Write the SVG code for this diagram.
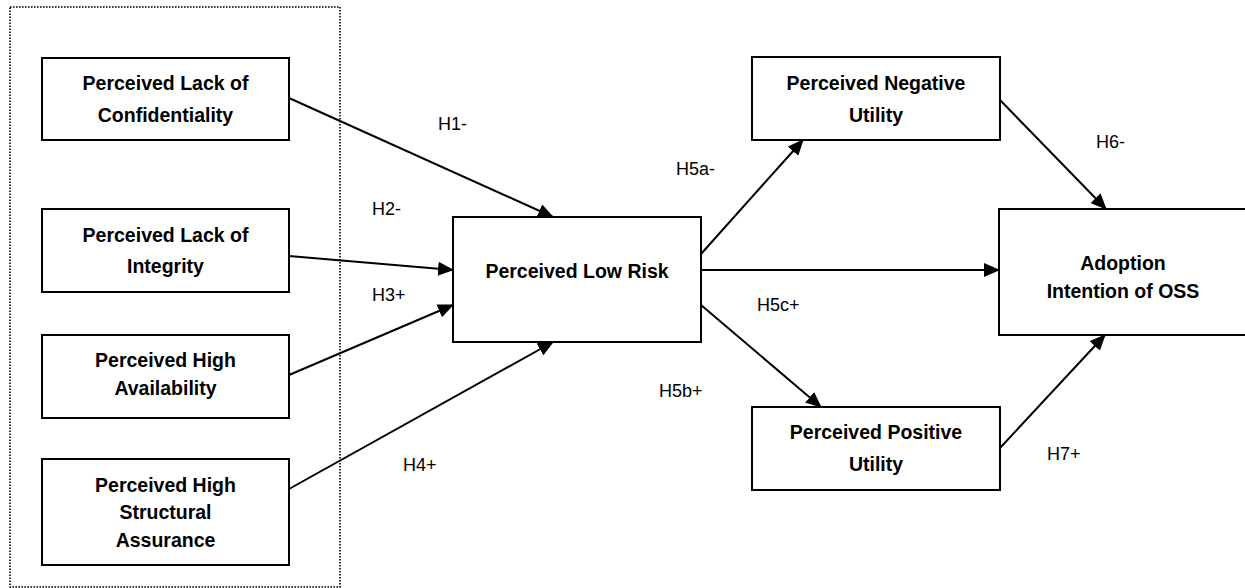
<svg xmlns="http://www.w3.org/2000/svg" width="1245" height="588" viewBox="0 0 1245 588">
<style>
.box{fill:#fff;stroke:#000;stroke-width:2}
.t{font-family:"Liberation Sans",Arial,sans-serif;font-weight:bold;font-size:19.5px;text-anchor:middle;fill:#000}
.lbl{font-family:"Liberation Sans",Arial,sans-serif;font-size:18px;fill:#000}
.c{stroke:#000;stroke-width:2;fill:none;marker-end:url(#ah)}
</style>
<defs>
<marker id="ah" markerUnits="userSpaceOnUse" markerWidth="16" markerHeight="14" refX="15" refY="7" orient="auto">
<path d="M0,0 L16,7 L0,14 Z" fill="#000"/>
</marker>
</defs>
<rect x="10" y="7" width="330" height="580" fill="none" stroke="#000" stroke-width="1.6" stroke-dasharray="1.6,1.4"/>
<g id="connectors">
<line class="c" x1="289" y1="98" x2="553" y2="217"/>
<line class="c" x1="289" y1="256" x2="453" y2="270"/>
<line class="c" x1="289" y1="375" x2="453" y2="305"/>
<line class="c" x1="289" y1="489" x2="553" y2="342"/>
<line class="c" x1="701" y1="254" x2="803" y2="140"/>
<line class="c" x1="701" y1="270" x2="999" y2="270"/>
<line class="c" x1="701" y1="305" x2="821" y2="407"/>
<line class="c" x1="1000" y1="100" x2="1106" y2="209"/>
<line class="c" x1="1000" y1="448" x2="1105" y2="335"/>
</g>
<g id="n1"><rect class="box" x="42" y="58" width="247" height="82"/><text class="t" x="165.5" y="90">Perceived Lack of</text><text class="t" x="165.5" y="122">Confidentiality</text></g>
<g id="n2"><rect class="box" x="42" y="209" width="247" height="83"/><text class="t" x="165.5" y="242">Perceived Lack of</text><text class="t" x="165.5" y="273">Integrity</text></g>
<g id="n3"><rect class="box" x="42" y="335" width="247" height="83"/><text class="t" x="165.5" y="367">Perceived High</text><text class="t" x="165.5" y="395">Availability</text></g>
<g id="n4"><rect class="box" x="42" y="459" width="247" height="106"/><text class="t" x="165.5" y="492">Perceived High</text><text class="t" x="165.5" y="519">Structural</text><text class="t" x="165.5" y="547">Assurance</text></g>
<g id="n5"><rect class="box" x="453" y="217" width="248" height="125"/><text class="t" x="577" y="278">Perceived Low Risk</text></g>
<g id="n6"><rect class="box" x="752" y="57" width="248" height="83"/><text class="t" x="876" y="90">Perceived Negative</text><text class="t" x="876" y="122">Utility</text></g>
<g id="n7"><rect class="box" x="752" y="407" width="248" height="83"/><text class="t" x="876" y="439">Perceived Positive</text><text class="t" x="876" y="471">Utility</text></g>
<g id="n8"><rect class="box" x="999" y="209" width="260" height="126"/><text class="t" x="1123" y="270">Adoption</text><text class="t" x="1123" y="298">Intention of OSS</text></g>
<g id="labels">
<text class="lbl" x="438" y="130">H1-</text>
<text class="lbl" x="372" y="215">H2-</text>
<text class="lbl" x="372" y="301">H3+</text>
<text class="lbl" x="403" y="471">H4+</text>
<text class="lbl" x="676" y="175">H5a-</text>
<text class="lbl" x="757" y="311">H5c+</text>
<text class="lbl" x="659" y="397">H5b+</text>
<text class="lbl" x="1096" y="148">H6-</text>
<text class="lbl" x="1047" y="460">H7+</text>
</g>
</svg>
